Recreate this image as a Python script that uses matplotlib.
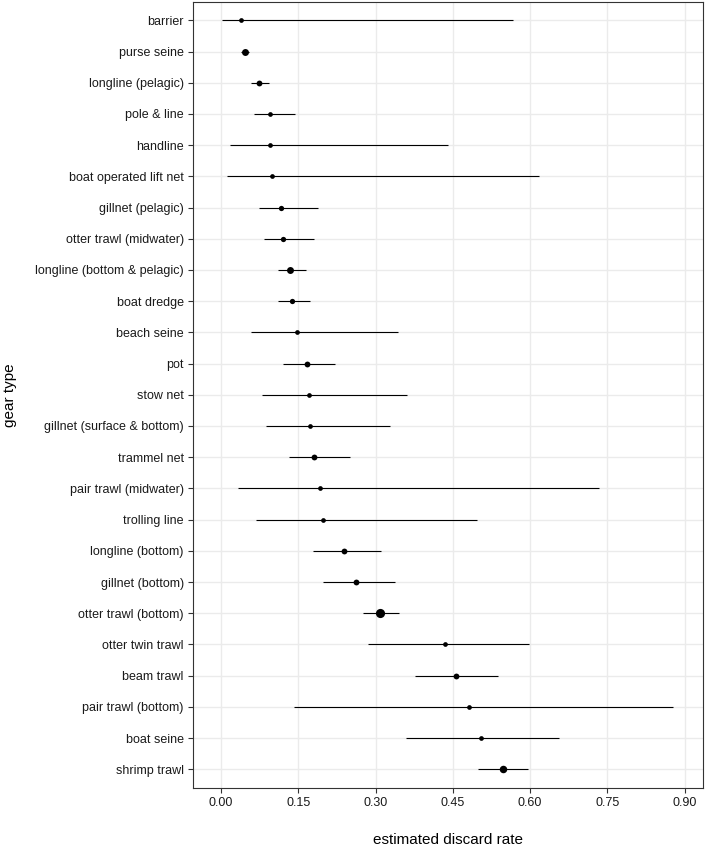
import matplotlib
matplotlib.use("Agg")
import matplotlib.pyplot as plt
from matplotlib.ticker import MultipleLocator

plt.rcParams['font.family'] = ['Liberation Sans', 'DejaVu Sans']

gears = ["barrier", "purse seine", "longline (pelagic)", "pole & line", "handline",
         "boat operated lift net", "gillnet (pelagic)", "otter trawl (midwater)",
         "longline (bottom & pelagic)", "boat dredge", "beach seine", "pot", "stow net",
         "gillnet (surface & bottom)", "trammel net", "pair trawl (midwater)",
         "trolling line", "longline (bottom)", "gillnet (bottom)", "otter trawl (bottom)",
         "otter twin trawl", "beam trawl", "pair trawl (bottom)", "boat seine", "shrimp trawl"]
rate = [0.039, 0.046, 0.073, 0.094, 0.095, 0.099, 0.117, 0.120, 0.133, 0.138, 0.147,
        0.166, 0.171, 0.173, 0.181, 0.191, 0.198, 0.239, 0.261, 0.308, 0.435, 0.456,
        0.481, 0.505, 0.548]
lower = [0.002, 0.039, 0.058, 0.064, 0.018, 0.011, 0.074, 0.083, 0.110, 0.110, 0.057,
         0.120, 0.080, 0.088, 0.132, 0.032, 0.068, 0.179, 0.198, 0.275, 0.285, 0.377,
         0.141, 0.358, 0.499]
upper = [0.567, 0.054, 0.093, 0.143, 0.441, 0.617, 0.189, 0.181, 0.164, 0.173, 0.343,
         0.221, 0.360, 0.328, 0.250, 0.734, 0.497, 0.311, 0.338, 0.346, 0.598, 0.537,
         0.877, 0.656, 0.595]
# relative weight of each estimate (drives the point size)
weight = [1, 3, 2, 1, 1, 1, 1.5, 1.5, 3, 1.5, 1, 2, 1, 1, 2, 1, 1, 2, 2, 5, 1, 2, 1, 1, 3.5]

fig = plt.figure(figsize=(7.09, 8.46), dpi=100)
ax = fig.add_axes([0.272, 0.0686, 0.7197, 0.9295])

y = list(range(len(gears)))
ax.hlines(y, lower, upper, color='black', linewidth=0.8, zorder=3)
for yi, r, w in zip(y, rate, weight):
    ax.plot(r, yi, 'o', color='black', markersize=2.6 + 0.8 * w, markeredgewidth=0, zorder=4)

ax.set_xlim(-0.055, 0.936)
ax.set_ylim(len(gears) - 0.4, -0.6)
ax.xaxis.set_major_locator(MultipleLocator(0.15))
ax.xaxis.set_major_formatter(plt.FuncFormatter(lambda v, p: f"{v:.2f}"))
ax.set_yticks(y)
ax.set_yticklabels(gears)

ax.grid(True, color='#EBEBEB', linewidth=1.0, zorder=0)
ax.set_axisbelow(True)
for s in ax.spines.values():
    s.set_color('#333333')
    s.set_linewidth(0.8)
ax.tick_params(axis='both', colors='#333333', labelcolor='#1a1a1a', labelsize=9,
               length=3.5, width=0.8, pad=3)

ax.set_xlabel("estimated discard rate", fontsize=11, labelpad=17)
ax.set_ylabel("gear type", fontsize=11, labelpad=13)

fig.savefig("out.png", dpi=100)
